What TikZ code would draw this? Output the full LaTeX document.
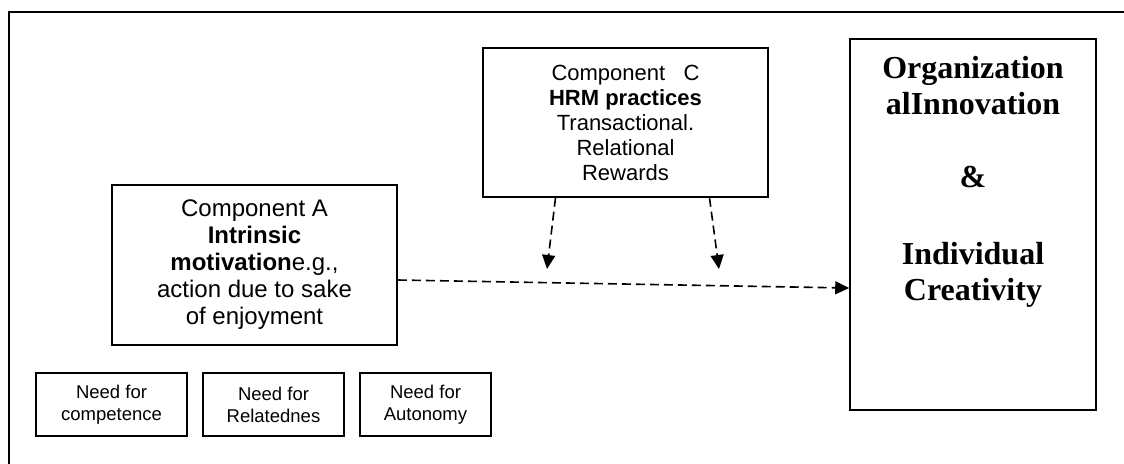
\documentclass[tikz,border=0pt]{standalone}
\usepackage{fontspec}
\setmainfont{Liberation Sans}
\newfontfamily\timesfont{Liberation Serif}
\usetikzlibrary{arrows.meta}
\begin{document}
\begin{tikzpicture}[x=1pt,y=-1pt,
  box/.style={draw=black,line width=1.6pt,inner sep=0pt,align=center},
  dasharrow/.style={line width=1.6pt,dash pattern=on 9pt off 5pt,-{Triangle[length=14pt,width=13pt]}},
  txtA/.style={font=\fontsize{24}{27}\selectfont},
  txtC/.style={font=\fontsize{22}{25}\selectfont},
  txtS/.style={font=\fontsize{18.5}{22}\selectfont},
  txtO/.style={font=\timesfont\bfseries\fontsize{32}{36}\selectfont,align=center,inner sep=0pt}]
\useasboundingbox (0,0) rectangle (1124,463);
\fill[white] (0,0) rectangle (1124,463);
% outer frame (only top and left visible)
\draw[line width=1.6pt] (9,470) -- (9,12) -- (1130,12);
% boxes
\node[box,txtC,minimum width=285pt,minimum height=149pt] (C) at (625.5,122.5)
  {Component\ \ \ C\\\textbf{HRM practices}\\Transactional.\ \\Relational\\Rewards};
\node[box,txtA,minimum width=285pt,minimum height=160pt] (A) at (254.5,265)
  {Component A\\\textbf{Intrinsic}\\\textbf{motivation}e.g.,\\action due to sake\\of enjoyment};
\node[box,minimum width=246pt,minimum height=371pt] (O) at (973,224.5) {};
\node[txtO,anchor=north] (Ot) at (973,56)
  {Organization\\alInnovation\\[37pt]\&\\[41pt]Individual\\Creativity};
\node[box,txtS,minimum width=151pt,minimum height=63pt] (N1) at (111.5,404.5) {Need for\\competence};
\node[box,txtS,minimum width=141pt,minimum height=63pt] (N2) at (273.5,404.5) {Need for\\Relatednes};
\node[box,txtS,minimum width=131pt,minimum height=63pt] (N3) at (425.5,404.5) {Need for\\Autonomy};
% arrows
\coordinate (t1) at (547,269);
\coordinate (t2) at (719,269);
\draw[dasharrow] ([xshift=-70pt]C.south) -- (t1);
\draw[dasharrow] ([xshift=84pt]C.south) -- (t2);
\draw[dasharrow] ([yshift=-15pt]A.east) -- ([yshift=-63.5pt]O.west);
\end{tikzpicture}
\end{document}
